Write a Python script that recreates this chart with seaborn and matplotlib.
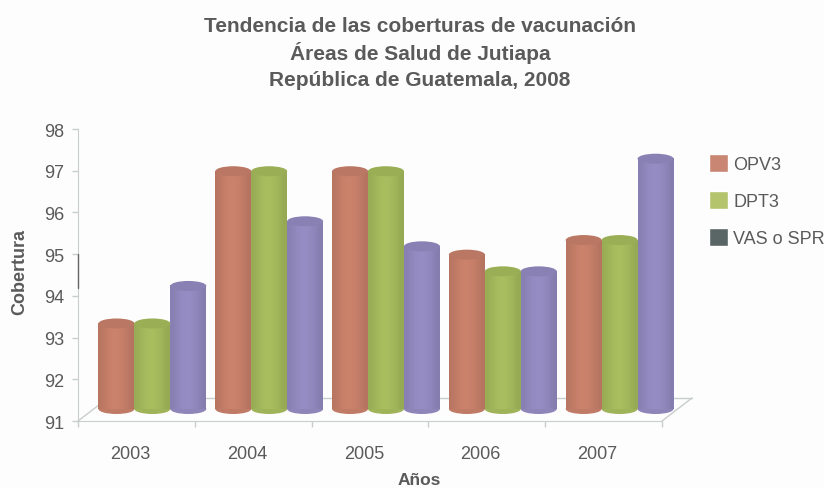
import numpy as np
import pandas as pd
import matplotlib
matplotlib.use('Agg')
import matplotlib.pyplot as plt
import seaborn as sns
from matplotlib.patches import Ellipse, Patch
from matplotlib.colors import to_rgb
from matplotlib.transforms import Affine2D

# valores
anios = ['2003', '2004', '2005', '2006', '2007']
opv3 = [93.05, 96.7, 96.7, 94.7, 95.05]
dpt3 = [93.05, 96.7, 96.7, 94.3, 95.05]
vas = [93.95, 95.5, 94.9, 94.3, 97.0]
ticks_y = [91, 92, 93, 94, 95, 96, 97, 98]
titulos = ['Tendencia de las coberturas de vacunación', 'Áreas de Salud de Jutiapa',
           'República de Guatemala, 2008']

colores = ['#C67F69', '#A4B95C', '#9289BF']
colores_leyenda = ['#C98672', '#B4C46C', '#5A6566']
gris = '#5A5A5A'
linea = '#C8CDCD'

df = pd.DataFrame({
    'Año': anios * 3,
    'Vacuna': ['OPV3'] * 5 + ['DPT3'] * 5 + ['VAS o SPR'] * 5,
    'Cobertura': opv3 + dpt3 + vas,
})

sns.set_style('white')
plt.rcParams['font.family'] = ['Liberation Sans', 'DejaVu Sans']

fig = plt.figure(figsize=(8.24, 4.89), dpi=100, facecolor='#FDFDFD')
ax = fig.add_axes([78 / 824, (489 - 422) / 489, 584 / 824, 292 / 489], facecolor='none')

sns.barplot(data=df, x='Año', y='Cobertura', hue='Vacuna', palette=colores,
            width=0.923, gap=0, legend=False, ax=ax, saturation=1, errorbar=None)

ax.set_xlim(-0.5, 4.5)
ax.set_ylim(91, 98)

# desplazamiento de la profundidad 3D, en pixeles
prof = ax.transData + Affine2D().translate(16, 12)
pared = ax.transData + Affine2D().translate(30, 23)

# piso
for x in [-0.5, 4.5]:
    x0, y0 = ax.transData.transform((x, 91))
    ax.plot([x0, x0 + 30], [y0, y0 + 23], color=linea, lw=1, clip_on=False, transform=None)
ax.plot([-0.5, 4.5], [91, 91], color=linea, lw=1, clip_on=False, transform=pared)

# cilindros
alto = 10 / 41.7
sombra = np.array([0.93, 0.98, 1.02, 1.03, 1.01, 0.97, 0.91])
for cont, color in zip(ax.containers, colores):
    base = np.array(to_rgb(color))
    for bar in cont:
        v = bar.get_height()
        x0 = bar.get_x()
        w = bar.get_width()
        bar.set_visible(False)
        ax.add_patch(Ellipse((x0 + w / 2, 91), w, alto, facecolor=base * 0.97, lw=0,
                             transform=prof, clip_on=False, zorder=3))
        grad = np.clip(base[None, None, :] * sombra[None, :, None], 0, 1)
        ax.imshow(grad, extent=[x0, x0 + w, 91, v], aspect='auto', transform=prof,
                  interpolation='bicubic', zorder=3.1, clip_on=False)
        ax.add_patch(Ellipse((x0 + w / 2, v), w, alto, facecolor=base * 0.94, lw=0,
                             transform=prof, clip_on=False, zorder=3.2))

ax.set_xlim(-0.5, 4.5)
ax.set_ylim(91, 98)

for lado in ['top', 'right']:
    ax.spines[lado].set_visible(False)
ax.spines['left'].set_color(linea)
ax.spines['bottom'].set_color(linea)

ax.set_yticks(ticks_y)
ax.set_xticks(range(5))
ax.set_xticks(np.arange(-0.5, 5), minor=True)
ax.tick_params(axis='x', which='major', length=0, pad=17, labelsize=13, labelcolor=gris)
ax.tick_params(axis='x', which='minor', length=4, width=1, color=linea, direction='out', bottom=True)
ax.tick_params(axis='y', length=4, width=1, color=linea, pad=6, labelsize=13, labelcolor=gris, left=True)
for lab in ax.get_xticklabels():
    lab.set_transform(lab.get_transform() + Affine2D().translate(-6, 0))

ax.set_xlabel('Años', fontsize=12.5, fontweight='bold', color=gris, va='center')
ax.xaxis.set_label_coords(0.585, -0.202)
ax.set_ylabel('Cobertura', fontsize=13, fontweight='bold', color=gris, va='center')
ax.yaxis.set_label_coords(-0.099, 0.515)

# marca oscura del eje que aparece en el original
ax.plot([-0.5, -0.5], [94.2, 95.0], color='#666666', lw=1, clip_on=False, zorder=4)

for texto, y in zip(titulos, [27, 53, 81]):
    fig.text(420 / 824, 1 - y / 489, texto, ha='center', va='center', fontsize=15,
             fontweight='bold', color=gris)

handles = [Patch(facecolor=c, label=l) for c, l in zip(colores_leyenda, ['OPV3', 'DPT3', 'VAS o SPR'])]
ax.legend(handles=handles, loc='upper left', bbox_to_anchor=(709 / 824, 1 - 155 / 489),
          bbox_transform=fig.transFigure, frameon=False, fontsize=13, handlelength=1.05,
          handleheight=1.15, handletextpad=0.28, labelspacing=1.0, labelcolor=gris,
          borderpad=0, borderaxespad=0)

fig.savefig('out.png', dpi=100, facecolor=fig.get_facecolor())
